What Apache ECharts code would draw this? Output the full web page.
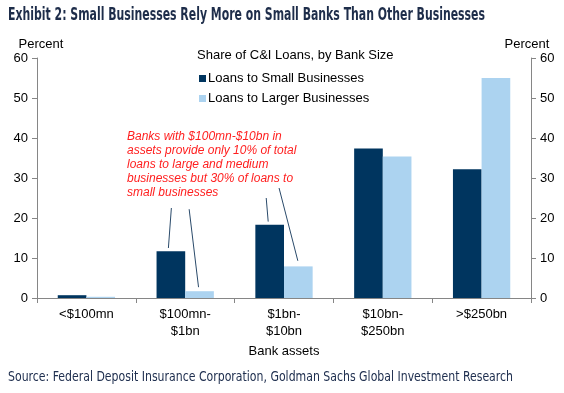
<!DOCTYPE html>
<html><head><meta charset="utf-8">
<script src="https://cdn.jsdelivr.net/npm/echarts@6/dist/echarts.min.js"></script>
<style>html,body{margin:0;padding:0;background:#fff}#c{width:564px;height:393px}</style>
</head><body><div id="c"></div>
<script>
var categories = ['<$100mn', '$100mn-\n$1bn', '$1bn-\n$10bn', '$10bn-\n$250bn', '>$250bn'];
var smallBiz = [0.7, 11.7, 18.3, 37.4, 32.2];
var largerBiz = [0.3, 1.7, 7.9, 35.4, 55.0];
var yTicks = [0, 10, 20, 30, 40, 50, 60];
var seriesNames = ['Loans to Small Businesses', 'Loans to Larger Businesses'];
var titleText = 'Exhibit 2: Small Businesses Rely More on Small Banks Than Other Businesses';
var sourceText = 'Source: Federal Deposit Insurance Corporation, Goldman Sachs Global Investment Research';
var noteText = 'Banks with $100mn-$10bn in\nassets provide only 10% of total\nloans to large and medium\nbusinesses but 30% of loans to\nsmall businesses';
// annotation leader lines: [category index, offset (fraction of category), value] start -> end
var leaderLines = [
  [[1, -0.14, 22.5], [1, -0.17, 12.5]],
  [[1, 0.04, 22.2], [1, 0.135, 2.7]],
  [[2, -0.18, 25.0], [2, -0.16, 19.1]],
  [[2, -0.05, 27.5], [2, 0.14, 9.3]]
];

var navy = '#00355f', light = '#acd3f0', axisCol = '#868686';
var tickFont = {color: '#000', fontFamily: 'Liberation Sans, Arial', fontSize: 13};
var condFont = '"DejaVu Sans Condensed", "Liberation Sans Narrow", "DejaVu Sans"';
var chart = echarts.init(document.getElementById('c'), null, {renderer: 'canvas'});
var yAxisBase = function (pos) {
  return {
    type: 'value', position: pos, min: yTicks[0], max: yTicks[yTicks.length - 1], interval: 10,
    axisLine: {show: true, lineStyle: {color: axisCol, width: 1}},
    axisTick: {show: true, length: 5, lineStyle: {color: axisCol}},
    splitLine: {show: false},
    axisLabel: Object.assign({margin: 9}, tickFont),
    name: 'Percent', nameLocation: 'end', nameGap: 7,
    nameTextStyle: Object.assign({}, tickFont, {align: 'center', padding: pos === 'left' ? [0, 0, 0, 8] : [0, 8, 0, 0]})
  };
};
chart.setOption({
  animation: false,
  title: [
    {text: 'Share of C&I Loans, by Bank Size', left: 192, top: 44,
      textStyle: {fontFamily: 'Liberation Sans, Arial', fontWeight: 'normal', fontSize: 13, color: '#000'}}
  ],
  legend: {
    data: seriesNames, orient: 'vertical', left: 194, top: 67, itemWidth: 7, itemHeight: 7, itemGap: 7,
    icon: 'rect', textStyle: {fontFamily: 'Liberation Sans, Arial', fontSize: 13, color: '#000', padding: [0, 0, 0, -3]}
  },
  grid: {left: 37, right: 33, top: 58, bottom: 95, containLabel: false},
  xAxis: {
    type: 'category', data: categories,
    axisLine: {lineStyle: {color: axisCol}},
    axisTick: {show: true, length: 5, lineStyle: {color: axisCol}},
    axisLabel: Object.assign({margin: 8, lineHeight: 17, interval: 0}, tickFont),
    name: 'Bank assets', nameLocation: 'middle', nameGap: 46,
    nameTextStyle: tickFont
  },
  yAxis: [yAxisBase('left'), yAxisBase('right')],
  series: [
    {name: seriesNames[0], type: 'bar', data: smallBiz, itemStyle: {color: navy}, barGap: '0%', barCategoryGap: '42%', yAxisIndex: 0},
    {name: seriesNames[1], type: 'bar', data: largerBiz, itemStyle: {color: light}, yAxisIndex: 0}
  ]
});

// text measured for horizontal fit (condensed look)
var ctx = document.createElement('canvas').getContext('2d');
function fitScale(text, font, width) { ctx.font = font; return width / ctx.measureText(text).width; }
var titleFont = 'bold 17px ' + condFont;
var srcFont = '14px ' + condFont;

var p0 = chart.convertToPixel({gridIndex: 0}, [0, 0]);
var p1 = chart.convertToPixel({gridIndex: 0}, [1, 0]);
var catW = p1[0] - p0[0];
function pt(d) {
  var p = chart.convertToPixel({gridIndex: 0}, [d[0], d[2]]);
  return [p[0] + d[1] * catW, p[1]];
}
var graphics = leaderLines.map(function (l) {
  var a = pt(l[0]), b = pt(l[1]);
  return {type: 'line', shape: {x1: a[0], y1: a[1], x2: b[0], y2: b[1]}, style: {stroke: '#2a4a6a', lineWidth: 1}, z: 10};
});
graphics.push({
  type: 'text', x: 127, y: 130, z: 10,
  style: {text: noteText, fill: '#ff1f1f', font: 'italic 12px "Liberation Sans", Arial', lineHeight: 14}
});
graphics.push({
  type: 'text', x: 8, y: 16, scaleX: fitScale(titleText, titleFont, 477), z: 10,
  style: {text: titleText, fill: '#1e2d4a', font: titleFont, verticalAlign: 'middle'}
});
graphics.push({
  type: 'text', x: 8, y: 377, scaleX: fitScale(sourceText, srcFont, 505), z: 10,
  style: {text: sourceText, fill: '#203050', font: srcFont, verticalAlign: 'middle'}
});
chart.setOption({graphic: graphics});
</script></body></html>
